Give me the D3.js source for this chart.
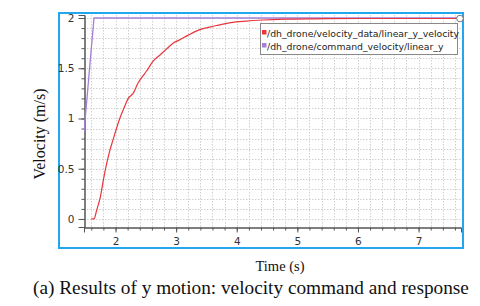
<!DOCTYPE html>
<html><head><meta charset="utf-8">
<script src="https://cdn.jsdelivr.net/npm/d3@7"></script>
<style>body{margin:0;background:#fff}svg{display:block}</style>
</head><body>
<script>
// Data
const responseTime = [1.60,1.645,1.69,1.75,1.80,1.85,1.91,1.95,1.99,2.07,2.15,2.21,2.29,2.37,2.46,2.51,2.62,2.73,2.84,2.95,3.05,3.20,3.37,3.55,3.70,3.90,4.16,4.43,4.80,5.30,6.00,6.80,7.65];
const responseVel  = [0.00,0.00,0.09,0.22,0.39,0.54,0.69,0.77,0.85,1.00,1.12,1.20,1.25,1.35,1.43,1.47,1.57,1.63,1.69,1.75,1.78,1.83,1.88,1.91,1.93,1.955,1.97,1.98,1.988,1.992,1.995,1.995,1.995];
const commandTime = [1.48,1.645,7.65];
const commandVel  = [0.86,2.00,2.00];
const xTickLabels = ["2","3","4","5","6","7"];
const yTickLabels = ["0","0.5","1","1.5","2"];
const seriesNames = ["/dh_drone/velocity_data/linear_y_velocity","/dh_drone/command_velocity/linear_y"];
const seriesColors = ["#e8363c","#a47fd6"];

const W=480,H=306;
const svg=d3.select("body").append("svg").attr("width",W).attr("height",H);
svg.append("rect").attr("x",59).attr("y",13).attr("width",404).attr("height",235)
  .attr("fill","#fff").attr("stroke","#22a6ee").attr("stroke-width",2);

const x=d3.scaleLinear().domain([1.48,7.70]).range([84,461]);
const y=d3.scaleLinear().domain([-0.08,2.03]).range([227,15]);

// grid
const gx=d3.range(1.6,7.61,0.2), gy=d3.range(0,2.001,0.1);
const grid=svg.append("g").attr("stroke","#d0d0d0").attr("stroke-width",1).attr("stroke-dasharray","1.5,1.5");
grid.selectAll(".v").data(gx).join("line").attr("x1",d=>Math.round(x(d))+0.5).attr("x2",d=>Math.round(x(d))+0.5).attr("y1",y.range()[1]).attr("y2",y.range()[0]);
grid.selectAll(".h").data(gy).join("line").attr("y1",d=>Math.round(y(d))+0.5).attr("y2",d=>Math.round(y(d))+0.5).attr("x1",x.range()[0]).attr("x2",x.range()[1]);

// axes
const font="DejaVu Sans";
const xMinor=d3.axisBottom(x).tickValues(d3.range(1.6,7.61,0.2)).tickSize(3).tickFormat("");
const gxm=svg.append("g").attr("transform","translate(0,227.5)").call(xMinor);
const xMajor=d3.axisBottom(x).tickValues(xTickLabels.map(Number)).tickSize(5).tickPadding(5).tickFormat((d,i)=>xTickLabels[i]);
const gxa=svg.append("g").attr("transform","translate(0,227.5)").call(xMajor);
const yMinor=d3.axisLeft(y).tickValues(d3.range(0,2.001,0.1)).tickSize(3).tickFormat("");
const gym=svg.append("g").attr("transform","translate(84.5,0)").call(yMinor);
const yMajor=d3.axisLeft(y).tickValues(yTickLabels.map(Number)).tickSize(6).tickPadding(4).tickFormat((d,i)=>yTickLabels[i]);
const gya=svg.append("g").attr("transform","translate(84.5,0)").call(yMajor);
[gxm,gxa,gym,gya].forEach(g=>{
  g.selectAll("path,line").attr("stroke","#555");
  g.selectAll("text").attr("fill","#333").style("font-family",font).style("font-size","10.5px");
});

// lines
const line=d3.line().x(d=>x(d[0])).y(d=>y(d[1]));
svg.append("defs").append("clipPath").attr("id","clip").append("rect")
  .attr("x",x.range()[0]).attr("y",12).attr("width",x.range()[1]-x.range()[0]).attr("height",y.range()[0]-12);
const cmd=commandTime.map((t,i)=>[t,commandVel[i]]);
const resp=responseTime.map((t,i)=>[t,responseVel[i]]);
svg.append("path").attr("clip-path","url(#clip)").attr("d",line(cmd)).attr("fill","none").attr("stroke",seriesColors[1]).attr("stroke-width",1.3);
svg.append("path").attr("clip-path","url(#clip)").attr("d",d3.line().curve(d3.curveMonotoneX).x(d=>x(d[0])).y(d=>y(d[1]))(resp)).attr("fill","none").attr("stroke",seriesColors[0]).attr("stroke-width",1.2);
const last=resp[resp.length-1];
svg.append("circle").attr("cx",x(last[0])+2).attr("cy",y(last[1])).attr("r",3.3).attr("fill","#fff").attr("stroke","#777").attr("stroke-width",1);

// legend
const lg=svg.append("g");
lg.append("rect").attr("x",260.5).attr("y",23.5).attr("width",197).attr("height",31).attr("fill","#fff").attr("stroke","#888").attr("stroke-width",1);
seriesNames.forEach((n,i)=>{
  lg.append("rect").attr("x",262).attr("y",30+i*13).attr("width",4.5).attr("height",4.5).attr("fill",seriesColors[i]);
  lg.append("text").attr("x",267).attr("y",36.5+i*13).text(n).attr("fill","#222").style("font-family",font).style("font-size","9.3px");
});

// titles
svg.append("text").attr("transform","translate(45,134) rotate(-90)").attr("text-anchor","middle")
  .style("font-family","Liberation Serif").style("font-size","16px").attr("fill","#111").text("Velocity (m/s)");
svg.append("text").attr("x",280).attr("y",271).attr("text-anchor","middle")
  .style("font-family","Liberation Serif").style("font-size","14.5px").attr("fill","#111").text("Time (s)");
svg.append("text").attr("x",33).attr("y",294)
  .style("font-family","Liberation Serif").style("font-size","19.3px").attr("fill","#111").text("(a) Results of y motion: velocity command and response");
</script>
</body></html>
